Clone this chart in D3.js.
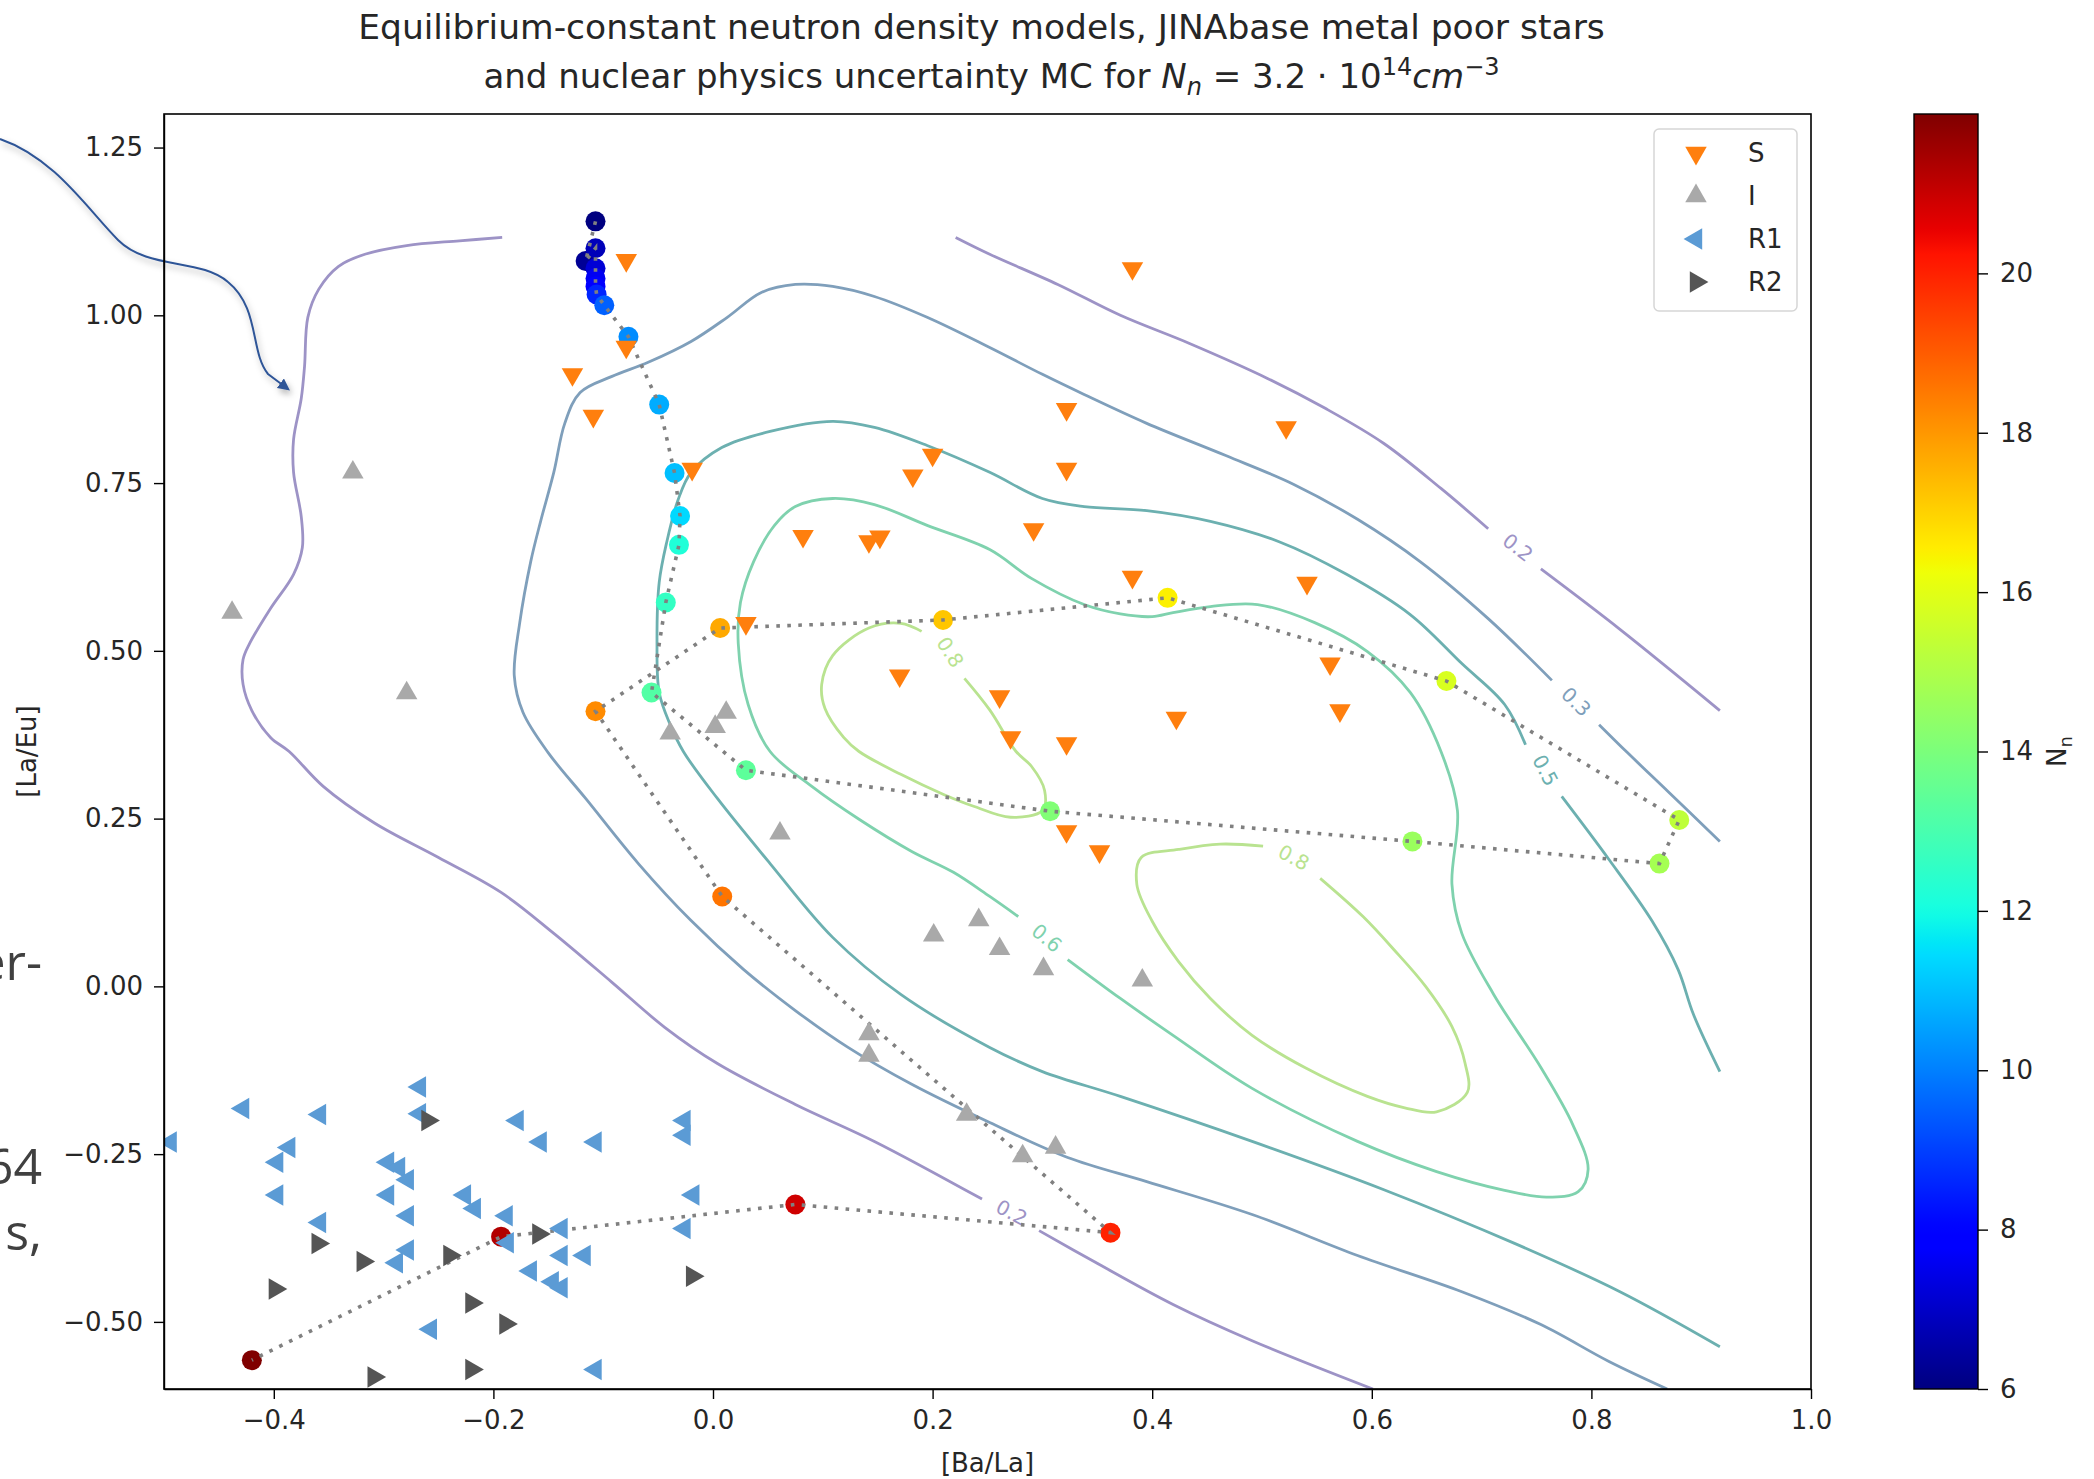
<!DOCTYPE html>
<html>
<head>
<meta charset="UTF-8">
<title>Equilibrium-constant neutron density models</title>
<script src="https://d3js.org/d3.v7.min.js"></script>
<style>
  body { margin: 0; background: #fff; }
  text { font-family: "DejaVu Sans", sans-serif; fill: #262626; }
  .axis path, .axis line { stroke: #000; stroke-width: 1.4px; }
  .axis text { font-size: 26px; fill: #262626; }
  .contour { fill: none; stroke-width: 2.8px; }
  .track { fill: none; stroke: #808080; stroke-width: 3.6px; stroke-dasharray: 3.6 7.4; }
</style>
</head>
<body>
<svg width="2094" height="1479"></svg>
<script>
// ---- data ----
var sStars = [[-0.079,1.082],[-0.079,0.953],[-0.128,0.912],[-0.109,0.850],[-0.019,0.771],[0.200,0.792],[0.182,0.761],
  [0.082,0.671],[0.142,0.663],[0.152,0.670],[0.030,0.541],[0.170,0.463],[0.382,1.070],[0.322,0.860],[0.522,0.833],
  [0.322,0.771],[0.292,0.681],[0.382,0.610],[0.541,0.601],[0.562,0.481],[0.571,0.411],[0.422,0.400],[0.261,0.432],
  [0.271,0.371],[0.322,0.362],[0.322,0.231],[0.352,0.201]];

var iStars = [[-0.328,0.766],[-0.438,0.557],[-0.279,0.437],[0.012,0.408],[0.002,0.387],[-0.039,0.377],[0.061,0.228],
  [0.201,0.076],[0.242,0.099],[0.142,-0.071],[0.142,-0.103],[0.231,-0.191],[0.261,0.056],[0.301,0.026],[0.391,0.009],
  [0.282,-0.253],[0.312,-0.240]];

var r1Stars = [[-0.494,-0.232],[-0.428,-0.182],[-0.358,-0.191],[-0.267,-0.150],[-0.267,-0.190],[-0.386,-0.240],
  [-0.397,-0.262],[-0.397,-0.311],[-0.296,-0.262],[-0.286,-0.270],[-0.278,-0.288],[-0.296,-0.311],[-0.278,-0.342],
  [-0.358,-0.352],[-0.178,-0.200],[-0.157,-0.232],[-0.107,-0.232],[-0.026,-0.200],[-0.026,-0.222],[-0.226,-0.311],
  [-0.217,-0.331],[-0.188,-0.342],[-0.187,-0.382],[-0.138,-0.361],[-0.138,-0.401],[-0.117,-0.401],[-0.278,-0.393],
  [-0.288,-0.412],[-0.166,-0.424],[-0.146,-0.440],[-0.138,-0.449],[-0.018,-0.311],[-0.026,-0.361],[-0.257,-0.511],
  [-0.107,-0.571]];

var r2Stars = [[-0.260,-0.200],[-0.360,-0.383],[-0.319,-0.410],[-0.399,-0.451],[-0.240,-0.401],[-0.159,-0.369],
  [-0.220,-0.472],[-0.189,-0.503],[-0.019,-0.432],[-0.220,-0.571],[-0.309,-0.582]];

// MC track, in order of increasing N_n: [Ba/La], [La/Eu], N_n
var mcBaLa = [-0.107,-0.116,-0.107,-0.107,-0.107,-0.107,-0.106,-0.099,-0.077,-0.049,-0.035,-0.030,-0.031,-0.043,
  -0.056,0.030,0.307,0.637,0.862,0.880,0.668,0.414,0.2095,0.0065,-0.107,0.0084,0.362,0.075,-0.193,-0.420];
var mcLaEu = [1.140,1.081,1.100,1.070,1.055,1.043,1.031,1.015,0.968,0.867,0.765,0.701,0.658,0.572,
  0.438,0.322,0.261,0.216,0.183,0.248,0.455,0.579,0.546,0.534,0.410,0.134,-0.367,-0.325,-0.373,-0.557];
var mcNn = [6.0,6.3,6.8,7.2,7.6,8.0,8.6,9.5,10.2,10.7,11.0,11.4,12.2,12.6,
  13.2,13.4,14.1,14.6,14.8,15.3,15.8,16.5,17.2,17.7,18.2,18.6,20.0,20.9,21.3,22.0];

// contour lines (broken where matplotlib put its inline labels)
var c02Left = [[-0.192,1.116],[-0.231,1.111],[-0.279,1.104],[-0.317,1.091],[-0.341,1.073],[-0.359,1.039],[-0.369,0.997],
  [-0.372,0.924],[-0.375,0.876],[-0.382,0.815],[-0.382,0.766],[-0.375,0.700],[-0.374,0.654],[-0.382,0.614],[-0.403,0.563],
  [-0.422,0.511],[-0.428,0.487],[-0.428,0.450],[-0.420,0.411],[-0.403,0.371],[-0.386,0.350],[-0.355,0.298],[-0.308,0.243],
  [-0.250,0.192],[-0.193,0.140],[-0.145,0.079],[-0.092,0.006],[-0.044,-0.061],[0.004,-0.115],[0.075,-0.176],
  [0.147,-0.231],[0.245,-0.317]];
var c02Bottom = [[0.297,-0.364],[0.347,-0.410],[0.419,-0.474],[0.491,-0.528],[0.601,-0.600]];
var c02TopA = [[0.221,1.116],[0.252,1.091],[0.314,1.046],[0.371,1.000],[0.434,0.958],[0.505,0.906],[0.558,0.861],
  [0.611,0.809],[0.663,0.742],[0.706,0.682]];
var c02TopB = [[0.754,0.622],[0.826,0.532],[0.917,0.411]];
var c03Main = [[0.869,-0.600],[0.816,-0.559],[0.754,-0.504],[0.682,-0.455],[0.587,-0.401],[0.491,-0.340],[0.395,-0.291],
  [0.323,-0.255],[0.252,-0.203],[0.181,-0.146],[0.123,-0.091],[0.075,-0.036],[0.028,0.025],[-0.020,0.098],[-0.068,0.183],
  [-0.116,0.280],[-0.150,0.348],[-0.173,0.408],[-0.181,0.463],[-0.176,0.542],[-0.166,0.633],[-0.157,0.693],[-0.145,0.766],
  [-0.135,0.839],[-0.121,0.885],[-0.092,0.909],[-0.059,0.930],[-0.020,0.961],[0.013,0.997],[0.044,1.034],[0.075,1.046],
  [0.109,1.043],[0.147,1.028],[0.195,0.997],[0.252,0.952],[0.300,0.912],[0.338,0.882],[0.395,0.839],[0.467,0.791],
  [0.529,0.748],[0.587,0.696],[0.644,0.633],[0.706,0.548],[0.764,0.456]];
var c03Tail = [[0.807,0.390],[0.833,0.348],[0.870,0.290],[0.917,0.216]];
var c05Main = [[0.917,-0.537],[0.826,-0.455],[0.730,-0.383],[0.611,-0.303],[0.491,-0.231],[0.371,-0.164],[0.300,-0.127],
  [0.252,-0.091],[0.171,-0.012],[0.109,0.073],[0.052,0.183],[0.004,0.280],[-0.027,0.350],[-0.039,0.390],[-0.049,0.438],
  [-0.051,0.511],[-0.049,0.602],[-0.042,0.663],[-0.032,0.724],[-0.020,0.766],[0.008,0.803],[0.052,0.827],[0.109,0.842],
  [0.147,0.833],[0.195,0.806],[0.252,0.766],[0.300,0.727],[0.338,0.715],[0.395,0.709],[0.453,0.693],[0.515,0.663],
  [0.577,0.614],[0.635,0.554],[0.682,0.481],[0.721,0.420],[0.740,0.360]];
var c05Tail = [[0.773,0.283],[0.816,0.189],[0.855,0.098],[0.879,0.025],[0.893,-0.042],[0.917,-0.127]];
var c06Loop = [[0.278,0.104],[0.252,0.134],[0.219,0.170],[0.181,0.201],[0.133,0.249],[0.090,0.298],[0.052,0.350],
  [0.032,0.420],[0.023,0.511],[0.025,0.572],[0.037,0.633],[0.056,0.687],[0.075,0.715],[0.109,0.727],[0.147,0.718],
  [0.195,0.687],[0.252,0.651],[0.290,0.608],[0.338,0.569],[0.371,0.555],[0.400,0.551],[0.419,0.557],[0.453,0.566],
  [0.496,0.569],[0.548,0.542],[0.596,0.499],[0.635,0.438],[0.663,0.350],[0.678,0.262],[0.673,0.152],[0.682,0.079],
  [0.711,-0.012],[0.754,-0.121],[0.783,-0.206],[0.797,-0.273],[0.788,-0.306],[0.759,-0.314],[0.721,-0.304],
  [0.659,-0.276],[0.587,-0.231],[0.491,-0.152],[0.419,-0.073],[0.371,-0.018],[0.323,0.040]];
var c08Upper = [[0.229,0.459],[0.252,0.412],[0.276,0.350],[0.290,0.328],[0.302,0.292],[0.300,0.262],[0.271,0.252],
  [0.238,0.268],[0.210,0.286],[0.171,0.316],[0.133,0.350],[0.119,0.371],[0.102,0.414],[0.099,0.450],[0.109,0.493],
  [0.142,0.534],[0.171,0.541],[0.190,0.529]];
var c08Lower = [[0.553,0.161],[0.592,0.104],[0.620,0.055],[0.649,0.000],[0.673,-0.060],[0.685,-0.115],[0.687,-0.158],
  [0.659,-0.187],[0.630,-0.181],[0.596,-0.164],[0.539,-0.121],[0.491,-0.073],[0.453,-0.018],[0.424,0.037],[0.400,0.097],
  [0.386,0.152],[0.390,0.192],[0.424,0.204],[0.462,0.212],[0.501,0.209]];

var contourLevels = [0.2, 0.3, 0.5, 0.6, 0.8];
var contourSegments = [
  { level: 0.2, pts: c02Left }, { level: 0.2, pts: c02Bottom }, { level: 0.2, pts: c02TopA }, { level: 0.2, pts: c02TopB },
  { level: 0.3, pts: c03Main }, { level: 0.3, pts: c03Tail },
  { level: 0.5, pts: c05Main }, { level: 0.5, pts: c05Tail },
  { level: 0.6, pts: c06Loop },
  { level: 0.8, pts: c08Upper }, { level: 0.8, pts: c08Lower }
];
// inline labels: [level, x, y, angle]
var contourLabels = [[0.2,0.733,0.654,38],[0.3,0.786,0.424,44],[0.5,0.758,0.322,62],[0.6,0.304,0.072,40],
  [0.8,0.216,0.498,58],[0.8,0.529,0.192,28],[0.2,0.272,-0.337,28]];

var xTicks = [-0.4, -0.2, 0.0, 0.2, 0.4, 0.6, 0.8, 1.0];
var yTicks = [-0.5, -0.25, 0.0, 0.25, 0.5, 0.75, 1.0, 1.25];
var nnTicks = [6, 8, 10, 12, 14, 16, 18, 20];

// ---- layout ----
var svg = d3.select('svg'),
    plot = { left: 164, right: 1811, top: 114, bottom: 1389 },
    cbar = { left: 1914, right: 1978 };

var x = d3.scaleLinear().domain([-0.5, 1.0]).range([plot.left, plot.right]),
    y = d3.scaleLinear().domain([-0.6, 1.3]).range([plot.bottom, plot.top]),
    cy = d3.scaleLinear().domain([6, 22]).range([plot.bottom, plot.top]);

var contourColor = d3.scaleOrdinal().domain(contourLevels)
    .range(['#9d93c6', '#7f9fbb', '#6cb0b0', '#7fd2ae', '#b9e390']);

// matplotlib "jet"
var jetR = d3.scaleLinear().domain([0, 0.35, 0.66, 0.89, 1]).range([0, 0, 1, 1, 0.5]).clamp(true),
    jetG = d3.scaleLinear().domain([0, 0.125, 0.375, 0.64, 0.91, 1]).range([0, 0, 1, 1, 0, 0]).clamp(true),
    jetB = d3.scaleLinear().domain([0, 0.11, 0.34, 0.65, 1]).range([0.5, 1, 1, 0, 0]).clamp(true),
    nnT = d3.scaleLinear().domain([6, 22]).range([0, 1]);
function jet(t) { return d3.rgb(jetR(t) * 255, jetG(t) * 255, jetB(t) * 255).formatHex(); }

var defs = svg.append('defs');
defs.append('clipPath').attr('id', 'clip').append('rect')
    .attr('x', plot.left).attr('y', plot.top)
    .attr('width', plot.right - plot.left).attr('height', plot.bottom - plot.top);

// slide leftovers in the left margin: arrow and cut-off text
defs.append('marker').attr('id', 'arrowhead').attr('viewBox', '0 0 10 10')
    .attr('refX', 8).attr('refY', 5).attr('markerWidth', 6).attr('markerHeight', 6)
    .attr('orient', 'auto-start-reverse')
  .append('path').attr('d', 'M0,0 L10,5 L0,10 z').attr('fill', '#2f5597');
var shadow = defs.append('filter').attr('id', 'shadow');
shadow.append('feDropShadow').attr('dx', 2).attr('dy', 4).attr('stdDeviation', 3)
    .attr('flood-color', '#000').attr('flood-opacity', 0.3);

svg.append('path')
    .attr('d', 'M0,139 C55,158 88,210 118,240 C148,270 200,258 228,282 C260,308 250,352 268,374 L288,389')
    .attr('fill', 'none').attr('stroke', '#2f5597').attr('stroke-width', 2)
    .attr('marker-end', 'url(#arrowhead)').attr('filter', 'url(#shadow)');

svg.selectAll('.slide-text')
    .data([['er-', 980], ['64', 1184], ['s,', 1250]])
  .enter().append('text')
    .attr('class', 'slide-text')
    .attr('x', 42).attr('y', function(d) { return d[1]; })
    .attr('text-anchor', 'end')
    .style('font-family', '"Open Sans", sans-serif')
    .style('font-size', '50px').style('fill', '#404040')
    .text(function(d) { return d[0]; });

// ---- plot ----
var g = svg.append('g');
var inner = g.append('g').attr('clip-path', 'url(#clip)');

var line = d3.line()
    .curve(d3.curveCatmullRom.alpha(0.5))
    .x(function(d) { return x(d[0]); })
    .y(function(d) { return y(d[1]); });

inner.selectAll('.contour')
    .data(contourSegments)
  .enter().append('path')
    .attr('class', 'contour')
    .attr('d', function(d) { return line(d.pts); })
    .style('stroke', function(d) { return contourColor(d.level); });

inner.selectAll('.clabel')
    .data(contourLabels)
  .enter().append('text')
    .attr('class', 'clabel')
    .attr('transform', function(d) { return 'translate(' + x(d[1]) + ',' + y(d[2]) + ') rotate(' + d[3] + ')'; })
    .attr('text-anchor', 'middle')
    .attr('dy', '0.35em')
    .style('font-size', '20px')
    .style('fill', function(d) { return contourColor(d[0]); })
    .text(function(d) { return d[0].toFixed(1); });

// MC track
var mc = mcBaLa.map(function(v, i) { return { x: v, y: mcLaEu[i], nn: mcNn[i] }; });

inner.selectAll('.mc')
    .data(mc)
  .enter().append('circle')
    .attr('class', 'mc')
    .attr('cx', function(d) { return x(d.x); })
    .attr('cy', function(d) { return y(d.y); })
    .attr('r', 10)
    .style('fill', function(d) { return jet(nnT(d.nn)); });

inner.append('path')
    .attr('class', 'track')
    .attr('d', d3.line().x(function(d) { return x(d.x); }).y(function(d) { return y(d.y); })(mc));

// star groups
var groups = [
  { name: 'S', data: sStars, color: '#ff7f0e', rot: 180 },
  { name: 'I', data: iStars, color: '#a9a9a9', rot: 0 },
  { name: 'R1', data: r1Stars, color: '#5b9bd5', rot: -90 },
  { name: 'R2', data: r2Stars, color: '#555555', rot: 90 }
];
var tri = d3.symbol().type(d3.symbolTriangle).size(200);

groups.forEach(function(grp) {
  inner.selectAll('.m-' + grp.name)
      .data(grp.data)
    .enter().append('path')
      .attr('class', 'm-' + grp.name)
      .attr('d', tri)
      .attr('transform', function(d) { return 'translate(' + x(d[0]) + ',' + y(d[1]) + ') rotate(' + grp.rot + ')'; })
      .style('fill', grp.color);
});

// axes
g.append('g')
    .attr('class', 'axis')
    .attr('transform', 'translate(0,' + plot.bottom + ')')
    .call(d3.axisBottom(x).tickValues(xTicks).tickSize(10).tickSizeOuter(0).tickPadding(12)
      .tickFormat(function(d) { return d3.format('.1f')(d).replace('-', '\u2212'); }));

g.append('g')
    .attr('class', 'axis')
    .attr('transform', 'translate(' + plot.left + ',0)')
    .call(d3.axisLeft(y).tickValues(yTicks).tickSize(10).tickSizeOuter(0).tickPadding(11)
      .tickFormat(function(d) { return d3.format('.2f')(d).replace('-', '\u2212'); }));

g.append('rect')
    .attr('x', plot.left).attr('y', plot.top)
    .attr('width', plot.right - plot.left).attr('height', plot.bottom - plot.top)
    .attr('fill', 'none').attr('stroke', '#000').attr('stroke-width', 1.6);

g.append('text')
    .attr('x', (plot.left + plot.right) / 2).attr('y', 1472)
    .attr('text-anchor', 'middle').style('font-size', '26px')
    .text('[Ba/La]');

g.append('text')
    .attr('transform', 'translate(36,' + (plot.top + plot.bottom) / 2 + ') rotate(-90)')
    .attr('text-anchor', 'middle').style('font-size', '26px')
    .text('[La/Eu]');

// legend
var legend = g.append('g');
legend.append('rect')
    .attr('x', 1654).attr('y', 129).attr('width', 143).attr('height', 182).attr('rx', 5)
    .attr('fill', '#fff').attr('fill-opacity', 0.8).attr('stroke', '#d6d6d6').attr('stroke-width', 1.5);
var item = legend.selectAll('.item')
    .data(groups)
  .enter().append('g')
    .attr('class', 'item')
    .attr('transform', function(d, i) { return 'translate(1696,' + (153 + i * 43) + ')'; });
item.append('path')
    .attr('d', tri)
    .attr('transform', function(d) { return 'rotate(' + d.rot + ')'; })
    .style('fill', function(d) { return d.color; });
item.append('text')
    .attr('x', 52).attr('dy', '0.35em')
    .style('font-size', '26px')
    .text(function(d) { return d.name; });

// title
var title = svg.append('g').attr('text-anchor', 'middle');
title.append('text')
    .attr('x', (plot.left + plot.right) / 2 - 6).attr('y', 39)
    .style('font-size', '34.5px')
    .text('Equilibrium-constant neutron density models, JINAbase metal poor stars');
var t2 = title.append('text')
    .attr('x', (plot.left + plot.right) / 2 + 4).attr('y', 88)
    .style('font-size', '34px');
t2.append('tspan').text('and nuclear physics uncertainty MC for ');
t2.append('tspan').style('font-style', 'italic').text('N');
t2.append('tspan').attr('dy', 7).style('font-size', '24px').style('font-style', 'italic').text('n');
t2.append('tspan').attr('dy', -7).text(' = 3.2 \u00b7 10');
t2.append('tspan').attr('dy', -13).style('font-size', '24px').text('14');
t2.append('tspan').attr('dy', 13).style('font-style', 'italic').text('cm');
t2.append('tspan').attr('dy', -13).style('font-size', '24px').text('\u22123');

// colour bar
var grad = defs.append('linearGradient').attr('id', 'jet')
    .attr('x1', 0).attr('y1', 1).attr('x2', 0).attr('y2', 0);
grad.selectAll('stop')
    .data(d3.range(0, 1.0001, 0.01))
  .enter().append('stop')
    .attr('offset', function(d) { return d; })
    .attr('stop-color', function(d) { return jet(d); });

svg.append('rect')
    .attr('x', cbar.left).attr('y', plot.top)
    .attr('width', cbar.right - cbar.left).attr('height', plot.bottom - plot.top)
    .attr('fill', 'url(#jet)').attr('stroke', '#000').attr('stroke-width', 1.4);

svg.append('g')
    .attr('class', 'axis')
    .attr('transform', 'translate(' + cbar.right + ',0)')
    .call(d3.axisRight(cy).tickValues(nnTicks).tickSize(10).tickSizeOuter(0).tickPadding(12))
    .select('.domain').remove();

var cl = svg.append('text')
    .attr('transform', 'translate(2066,' + (plot.top + plot.bottom) / 2 + ') rotate(-90)')
    .attr('text-anchor', 'middle')
    .style('font-size', '26px');
cl.append('tspan').text('N');
cl.append('tspan').attr('dy', 6).style('font-size', '18px').text('n');
</script>
</body>
</html>
